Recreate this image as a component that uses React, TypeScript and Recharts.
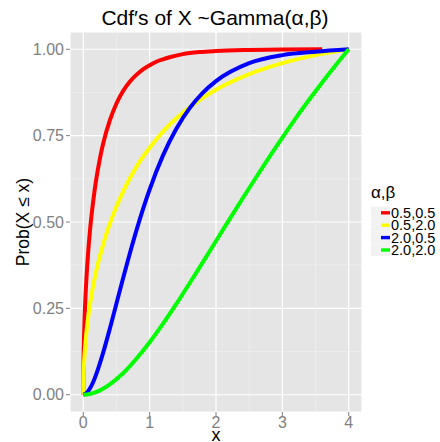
import { CartesianGrid, Line, LineChart, XAxis, YAxis } from "recharts";

// ggplot-style panel of four gamma CDFs.

const xTicks = [0, 1, 2, 3, 4];
const yTicks = [0, 0.25, 0.5, 0.75, 1];
const xMinor = [0.5, 1.5, 2.5, 3.5];
const yMinor = [0.125, 0.375, 0.625, 0.875];

const seriesNames = ["0.5,0.5", "0.5,2.0", "2.0,0.5", "2.0,2.0"];
const seriesColors = ["#FF0000", "#FFFF00", "#0000FF", "#00FF00"];

// [x, Prob(X <= x)]
const cdfRed: [number, number][] = [
  [0, 0], [0.005, 0.112], [0.01, 0.158], [0.02, 0.223], [0.035, 0.292], [0.05, 0.345],
  [0.075, 0.416], [0.1, 0.473], [0.15, 0.561], [0.2, 0.629], [0.25, 0.683], [0.3, 0.727],
  [0.4, 0.794], [0.5, 0.843], [0.6, 0.879], [0.7, 0.906], [0.8, 0.926], [0.9, 0.942],
  [1.0, 0.954], [1.1, 0.964], [1.2, 0.971], [1.3, 0.977], [1.5, 0.986], [1.75, 0.992],
  [2.0, 0.995], [2.5, 0.998], [3.0, 0.9995], [3.6, 1.0],
];

const cdfYellow: [number, number][] = [
  [0, 0], [0.005, 0.059], [0.01, 0.084], [0.02, 0.118], [0.05, 0.185], [0.1, 0.26],
  [0.15, 0.316], [0.2, 0.362], [0.3, 0.436], [0.4, 0.495], [0.5, 0.545], [0.6, 0.588],
  [0.7, 0.626], [0.8, 0.659], [0.9, 0.689], [1.0, 0.715], [1.25, 0.772], [1.5, 0.816],
  [1.75, 0.853], [2.0, 0.883], [2.5, 0.928], [3.0, 0.96], [3.5, 0.983], [4.0, 1.0],
];

const cdfBlue: [number, number][] = [
  [0, 0], [0.05, 0.005], [0.1, 0.018], [0.15, 0.037], [0.2, 0.062], [0.3, 0.122],
  [0.4, 0.191], [0.5, 0.264], [0.6, 0.337], [0.7, 0.408], [0.8, 0.475], [0.9, 0.537],
  [1.0, 0.594], [1.2, 0.692], [1.4, 0.769], [1.6, 0.829], [1.8, 0.874], [2.0, 0.908],
  [2.5, 0.96], [3.0, 0.983], [3.5, 0.993], [4.0, 1.0],
];

const cdfGreen: [number, number][] = [
  [0, 0], [0.1, 0.002], [0.2, 0.008], [0.4, 0.03], [0.6, 0.062], [0.8, 0.104],
  [1.0, 0.152], [1.2, 0.205], [1.4, 0.262], [1.6, 0.322], [1.8, 0.383], [2.0, 0.445],
  [2.2, 0.507], [2.4, 0.568], [2.6, 0.628], [2.8, 0.687], [3.0, 0.744], [3.2, 0.8],
  [3.4, 0.853], [3.6, 0.904], [3.8, 0.953], [4.0, 1.0],
];

const series = [cdfRed, cdfYellow, cdfBlue, cdfGreen];

const FONT = "'Liberation Sans', Arial, Helvetica, sans-serif";
const tickStyle = { fill: "#7F7F7F", fontSize: 16, fontFamily: FONT };

export default function App() {
  return (
    <div style={{ position: "absolute", left: 0, top: 0, width: 440, height: 442, background: "#fff" }}>
      <LineChart width={440} height={442} margin={{ top: 32, right: 78, bottom: 0, left: 10 }}>
        <CartesianGrid fill="#E5E5E5" fillOpacity={1} stroke="#FFFFFF" strokeWidth={1.2} />
        <CartesianGrid
          verticalValues={xMinor}
          horizontalValues={yMinor}
          stroke="#F2F2F2"
          strokeWidth={0.6}
        />
        <XAxis
          type="number"
          dataKey="x"
          domain={[-0.2, 4.2]}
          ticks={xTicks}
          allowDataOverflow
          height={30}
          axisLine={false}
          tickLine={{ stroke: "#7F7F7F" }}
          tickSize={4}
          tickMargin={1}
          tick={tickStyle}
        />
        <YAxis
          type="number"
          domain={[-0.05, 1.05]}
          ticks={yTicks}
          allowDataOverflow
          width={60}
          axisLine={false}
          tickLine={{ stroke: "#7F7F7F" }}
          tickSize={4}
          tickMargin={2}
          tick={tickStyle}
          tickFormatter={(v: number) => v.toFixed(2)}
        />
        {series.map((pts, i) => (
          <Line
            key={seriesNames[i]}
            data={pts.map(([x, p]) => ({ x, p }))}
            dataKey="p"
            type="monotone"
            stroke={seriesColors[i]}
            strokeWidth={4}
            strokeLinecap="butt"
            strokeLinejoin="round"
            dot={false}
            activeDot={false}
            isAnimationActive={false}
          />
        ))}
      </LineChart>
      <svg
        width={440}
        height={442}
        style={{ position: "absolute", left: 0, top: 0, pointerEvents: "none" }}
        fontFamily={FONT}
      >
        <text x={215} y={25} textAnchor="middle" fontSize={21} fill="#000">
          Cdf′s of X ~Gamma(α,β)
        </text>
        <text x={29} y={222} transform="rotate(-90 29 222)" textAnchor="middle" fontSize={17.5} fill="#000">
          Prob(X ≤ x)
        </text>
        <text x={216} y={441} textAnchor="middle" fontSize={18} fill="#000">
          x
        </text>
        <text x={371} y={198} fontSize={17} fill="#000">
          α,β
        </text>
        {seriesNames.map((name, i) => {
          const cy = 212.8 + i * 12.4;
          return (
            <g key={name}>
              <rect x={371} y={cy - 6.2} width={19} height={12.4} fill="#F2F2F2" />
              <rect x={381} y={cy - 1.7} width={9} height={3.4} fill={seriesColors[i]} />
              <text x={391} y={cy + 5.2} fontSize={14.5} fill="#000">
                {name}
              </text>
            </g>
          );
        })}
      </svg>
    </div>
  );
}
